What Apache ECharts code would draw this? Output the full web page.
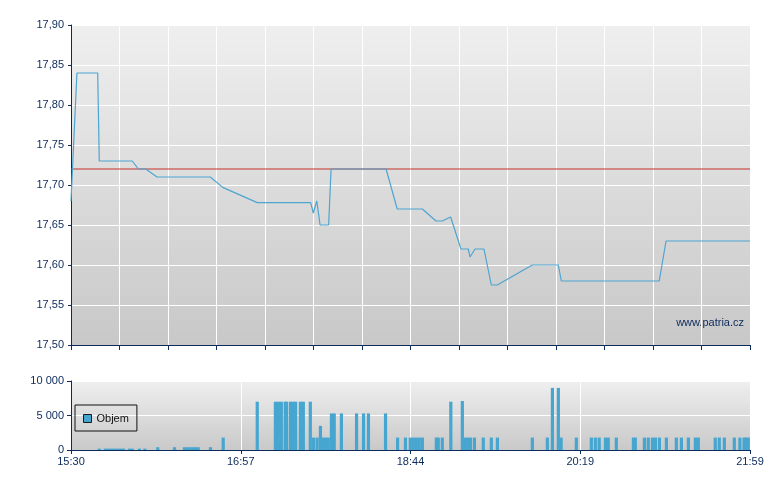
<!DOCTYPE html>
<html>
<head>
<meta charset="utf-8">
<script src="https://cdn.jsdelivr.net/npm/echarts@6/dist/echarts.min.js"></script>
<style>html,body{margin:0;padding:0;background:#fff}#c{width:780px;height:490px}</style>
</head>
<body>
<div id="c"></div>
<script>
// minutes since 15:30
const sessionMinutes = 389;
const timeLabels = ['15:30', '16:57', '18:44', '20:19', '21:59'];
const refPrice = 17.72;

const priceTimes = [0, 3.4, 15.3, 16.2, 35.1, 38.6, 42.8, 49.3, 79.8, 86.9, 106.7, 137.3, 138.8, 140.8, 142.7, 147.6, 149.0, 180.5, 186.9, 201.3, 209.1, 212.7, 217.5, 223.4, 227.6, 228.6, 231.5, 236.6, 240.8, 244.2, 264.3, 279.2, 280.9, 337.0, 340.9, 389];
const prices = [17.68, 17.84, 17.84, 17.73, 17.73, 17.72, 17.72, 17.71, 17.71, 17.697, 17.678, 17.678, 17.665, 17.68, 17.65, 17.65, 17.72, 17.72, 17.67, 17.67, 17.655, 17.655, 17.66, 17.62, 17.62, 17.61, 17.62, 17.62, 17.575, 17.575, 17.60, 17.60, 17.58, 17.58, 17.63, 17.63];

const volTimes = [16.2, 19.7, 21.5, 23.2, 24.9, 26.6, 28.4, 30.1, 33.5, 35.1, 39.2, 42.3, 49.7, 59.3, 65.0, 66.6, 68.2, 69.8, 71.3, 72.9, 79.9, 87.2, 106.7, 117.1, 118.8, 120.5, 122.7, 123.5, 125.7, 127.2, 128.7, 131.4, 133.1, 137.1, 138.9, 141.0, 142.9, 144.6, 146.0, 147.4, 149.2, 150.8, 154.9, 163.6, 167.6, 170.4, 180.2, 187.1, 191.6, 194.4, 196.1, 197.8, 199.5, 201.3, 209.3, 210.4, 212.7, 217.6, 224.2, 225.8, 227.3, 228.8, 231.1, 236.2, 240.8, 244.3, 264.3, 272.9, 275.8, 279.2, 280.8, 289.5, 298.1, 300.4, 302.6, 306.2, 307.8, 312.4, 322.2, 323.3, 328.5, 330.7, 333.1, 334.8, 337.1, 341.1, 346.8, 349.7, 353.7, 357.7, 359.4, 369.1, 371.4, 374.3, 380.0, 383.2, 385.6, 386.8, 388.0];
const volumes = [200, 200, 200, 200, 200, 200, 200, 200, 200, 200, 200, 200, 400, 400, 400, 400, 400, 400, 400, 400, 400, 1800, 7000, 7000, 7000, 7000, 7000, 7000, 7000, 7000, 7000, 7000, 7000, 7000, 1800, 1800, 3500, 1800, 1800, 1800, 5300, 5300, 5300, 5300, 5300, 5300, 5300, 1800, 1800, 1800, 1800, 1800, 1800, 1800, 1800, 1800, 1800, 7000, 7100, 1800, 1800, 1800, 1800, 1800, 1800, 1800, 1800, 1800, 9000, 9000, 1800, 1800, 1800, 1800, 1800, 1800, 1800, 1800, 1800, 1800, 1800, 1800, 1800, 1800, 1800, 1800, 1800, 1800, 1800, 1800, 1800, 1800, 1800, 1800, 1800, 1800, 1800, 1800, 1800];

const navy = '#0c2a5a';
const font = 'Liberation Sans, Arial, sans-serif';
const grad = (a, b) => ({type: 'linear', x: 0, y: 0, x2: 0, y2: 1, colorStops: [{offset: 0, color: a}, {offset: 1, color: b}]});

const chart = echarts.init(document.getElementById('c'), null, {renderer: 'canvas'});
chart.setOption({
  animation: false,
  backgroundColor: '#ffffff',
  textStyle: {fontFamily: font},
  grid: [
    {left: 71, right: 30, top: 25, height: 320, show: true, borderWidth: 0, backgroundColor: grad('#efefef', '#c8c8c8')},
    {left: 71, right: 30, top: 381, height: 69, show: true, borderWidth: 0, backgroundColor: grad('#efefef', '#c9c9c9')}
  ],
  xAxis: [
    {gridIndex: 0, type: 'value', min: 0, max: sessionMinutes, interval: sessionMinutes / 14,
     axisLine: {show: true, lineStyle: {color: navy, width: 1}},
     axisTick: {show: true, length: 5, lineStyle: {color: navy}},
     axisLabel: {show: false},
     splitLine: {show: true, lineStyle: {color: '#ffffff', width: 1}}},
    {gridIndex: 1, type: 'value', min: 0, max: sessionMinutes, interval: sessionMinutes / 4,
     axisLine: {show: true, lineStyle: {color: navy, width: 1}},
     axisTick: {show: true, length: 4, lineStyle: {color: navy}},
     axisLabel: {show: true, color: navy, fontSize: 11, fontFamily: font, margin: 6,
       formatter: v => timeLabels[Math.round(v / (sessionMinutes / 4))]},
     splitLine: {show: true, lineStyle: {color: '#ffffff', width: 1}}}
  ],
  yAxis: [
    {gridIndex: 0, type: 'value', min: 17.5, max: 17.9, interval: 0.05,
     axisLine: {show: true, lineStyle: {color: navy, width: 1}},
     axisTick: {show: true, length: 3, lineStyle: {color: navy}},
     axisLabel: {color: navy, fontSize: 11, fontFamily: font, margin: 7,
       formatter: v => v.toFixed(2).replace('.', ',')},
     splitLine: {show: true, lineStyle: {color: '#ffffff', width: 1}}},
    {gridIndex: 1, type: 'value', min: 0, max: 10000, interval: 5000,
     axisLine: {show: true, lineStyle: {color: navy, width: 1}},
     axisTick: {show: true, length: 4, lineStyle: {color: navy}},
     axisLabel: {color: navy, fontSize: 11, fontFamily: font, margin: 7,
       formatter: v => String(v).replace(/\B(?=(\d{3})+(?!\d))/g, ' ')},
     splitLine: {show: true, lineStyle: {color: '#ffffff', width: 1}}}
  ],
  legend: {
    data: ['Objem'], left: 75, top: 405,
    orient: 'horizontal',
    borderColor: '#111111', borderWidth: 1, borderRadius: 0, padding: [8, 8, 7, 8],
    icon: 'rect', itemWidth: 8, itemHeight: 8, itemGap: 5,
    itemStyle: {borderColor: '#1a1a1a', borderWidth: 1},
    textStyle: {color: '#111111', fontSize: 11, fontFamily: font}
  },
  graphic: [
    {type: 'text', right: 36, top: 317, style: {text: 'www.patria.cz', fill: navy, font: '11px ' + font}}
  ],
  series: [
    {name: 'ref', type: 'line', xAxisIndex: 0, yAxisIndex: 0, z: 1, symbol: 'none', silent: true,
     data: [[0, refPrice], [sessionMinutes, refPrice]],
     lineStyle: {color: '#c4302b', width: 1}},
    {name: 'Cena', type: 'line', xAxisIndex: 0, yAxisIndex: 0, z: 3, symbol: 'none',
     data: priceTimes.map((t, i) => [t, prices[i]]),
     lineStyle: {color: '#4ea5d0', width: 1.2}},
    {name: 'Objem', type: 'bar', xAxisIndex: 1, yAxisIndex: 1, barWidth: 3.2,
     data: volTimes.map((t, i) => [t, volumes[i]]),
     itemStyle: {color: '#46a6cf'}}
  ]
});
</script>
</body>
</html>
